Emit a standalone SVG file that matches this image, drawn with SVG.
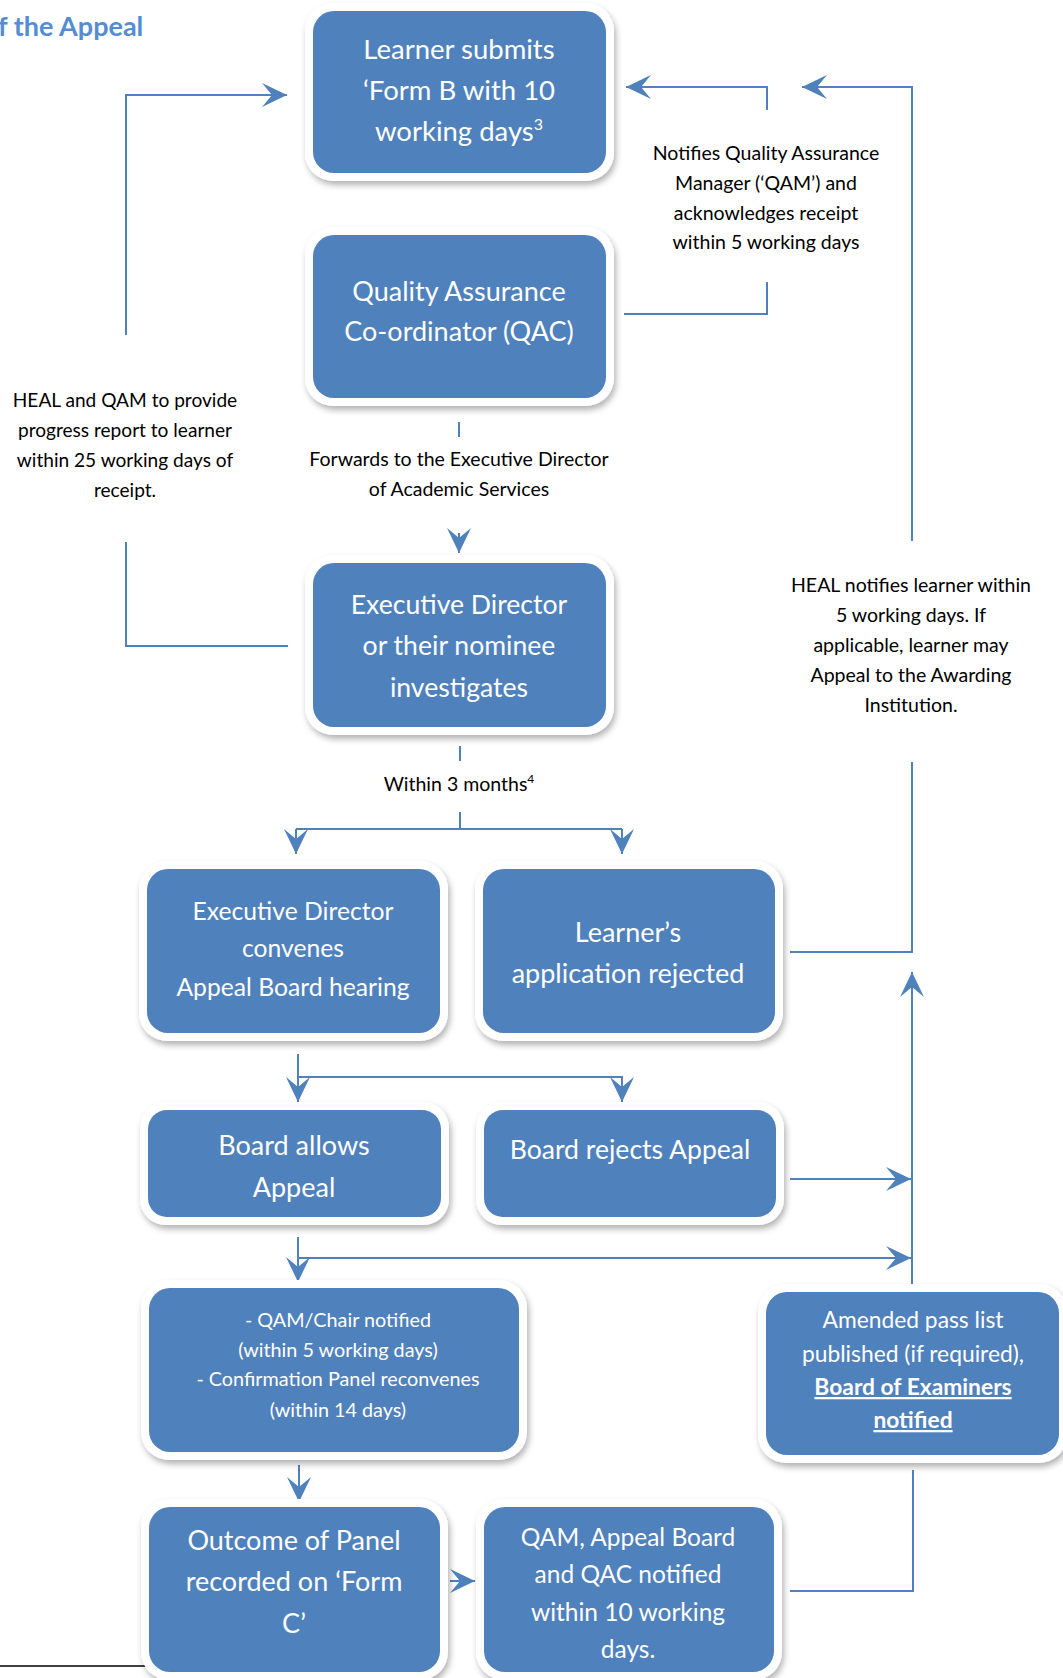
<svg xmlns="http://www.w3.org/2000/svg" width="1063" height="1678" viewBox="0 0 1063 1678">
<defs>
<filter id="sh" x="-10%" y="-10%" width="125%" height="130%">
<feDropShadow dx="2" dy="4" stdDeviation="3" flood-color="#000" flood-opacity="0.3"/>
</filter>
<marker id="ah" markerUnits="userSpaceOnUse" markerWidth="26" markerHeight="26" viewBox="0 0 26 26" refX="25" refY="13" orient="auto">
<path d="M0,1 L25,13 L0,25 L10,13 z" fill="#4F81BD"/>
</marker>
<style>
.frame{fill:#fff;filter:url(#sh)}
.box{fill:#4F81BD}
.bt{font-family:Lato,"Open Sans","Liberation Sans",sans-serif;fill:#fff;text-anchor:middle;font-size:27px}
.bs{font-family:Lato,"Open Sans","Liberation Sans",sans-serif;fill:#fff;text-anchor:middle;font-size:19.8px}
.bm{font-family:Lato,"Open Sans","Liberation Sans",sans-serif;fill:#fff;text-anchor:middle;font-size:22.8px}
.lb{font-family:Lato,"Open Sans","Liberation Sans",sans-serif;fill:#000;text-anchor:middle;font-size:19.5px}
.c{fill:none;stroke:#4F81BD;stroke-width:2}
.title{font-family:Lato,"Open Sans","Liberation Sans",sans-serif;font-weight:bold;font-size:27px;fill:#548DD4}
</style>
</defs>
<rect width="1063" height="1678" fill="#fff"/>
<text class="title" x="-2" y="36">f the Appeal</text>

<g id="connectors">
<path class="c" d="M126,335 V95 H287" marker-end="url(#ah)"/>
<path class="c" d="M288,646 H126 V542"/>
<path class="c" d="M624,314 H767 V282"/>
<path class="c" d="M767,110 V87 H626" marker-end="url(#ah)"/>
<path class="c" d="M790,952 H912 V762"/>
<path class="c" d="M912,541 V87 H802" marker-end="url(#ah)"/>
<path class="c" d="M459,422 V437"/>
<path class="c" d="M459,533 V553" marker-end="url(#ah)"/>
<path class="c" d="M460,746 V761"/>
<path class="c" d="M460,812 V829"/>
<path class="c" d="M296,829 H622"/>
<path class="c" d="M296,829 V854" marker-end="url(#ah)"/>
<path class="c" d="M622,829 V854" marker-end="url(#ah)"/>
<path class="c" d="M298,1054 V1102" marker-end="url(#ah)"/>
<path class="c" d="M298,1077 H622 V1102" marker-end="url(#ah)"/>
<path class="c" d="M790,1179 H911" marker-end="url(#ah)"/>
<path class="c" d="M298,1237 V1282" marker-end="url(#ah)"/>
<path class="c" d="M298,1258 H911" marker-end="url(#ah)"/>
<path class="c" d="M912,1287 V972" marker-end="url(#ah)"/>
<path class="c" d="M299,1465 V1502" marker-end="url(#ah)"/>
<path class="c" d="M450,1581 H475" marker-end="url(#ah)"/>
<path class="c" d="M790,1591 H913 V1470"/>
</g>

<line x1="0" y1="1666" x2="147" y2="1666" stroke="#000" stroke-width="1.5"/>

<g id="n1">
<rect class="frame" x="305" y="3" width="309" height="178" rx="28"/>
<rect class="box" x="313" y="11" width="293" height="162" rx="21"/>
<text class="bt" x="459" y="59" style="font-size:27.5px">Learner submits</text>
<text class="bt" x="459" y="100" style="font-size:27.5px">‘Form B with 10</text>
<text class="bt" x="459" y="141" style="font-size:27.5px">working days<tspan dy="-11" style="font-size:16px">3</tspan></text>
</g>

<g id="n2">
<rect class="frame" x="305" y="227" width="309" height="179" rx="28"/>
<rect class="box" x="313" y="235" width="293" height="163" rx="21"/>
<text class="bt" x="459" y="301">Quality Assurance</text>
<text class="bt" x="459" y="341">Co-ordinator (QAC)</text>
</g>

<g id="n3">
<rect class="frame" x="305" y="555" width="309" height="180" rx="28"/>
<rect class="box" x="313" y="563" width="293" height="164" rx="21"/>
<text class="bt" x="459" y="614" style="font-size:26.6px">Executive Director</text>
<text class="bt" x="459" y="655" style="font-size:26.6px">or their nominee</text>
<text class="bt" x="459" y="697" style="font-size:26.6px">investigates</text>
</g>

<g id="n4">
<rect class="frame" x="139" y="861" width="309" height="180" rx="28"/>
<rect class="box" x="147" y="869" width="293" height="164" rx="21"/>
<text class="bt" x="293" y="920" style="font-size:24.7px">Executive Director</text>
<text class="bt" x="293" y="957" style="font-size:24.7px">convenes</text>
<text class="bt" x="293" y="996" style="font-size:24.7px">Appeal Board hearing</text>
</g>

<g id="n5">
<rect class="frame" x="475" y="861" width="308" height="180" rx="28"/>
<rect class="box" x="483" y="869" width="292" height="164" rx="21"/>
<text class="bt" x="628" y="942">Learner’s</text>
<text class="bt" x="628" y="983">application rejected</text>
</g>

<g id="n6">
<rect class="frame" x="140" y="1102" width="309" height="123" rx="26"/>
<rect class="box" x="148" y="1110" width="293" height="107" rx="19"/>
<text class="bt" x="294" y="1155">Board allows</text>
<text class="bt" x="294" y="1197">Appeal</text>
</g>

<g id="n7">
<rect class="frame" x="476" y="1102" width="308" height="123" rx="26"/>
<rect class="box" x="484" y="1110" width="292" height="107" rx="19"/>
<text class="bt" x="630" y="1159" style="font-size:26.6px">Board rejects Appeal</text>
</g>

<g id="n8">
<rect class="frame" x="141" y="1280" width="386" height="180" rx="28"/>
<rect class="box" x="149" y="1288" width="370" height="164" rx="21"/>
<text class="bs" x="338" y="1327">- QAM/Chair notified</text>
<text class="bs" x="338" y="1357">(within 5 working days)</text>
<text class="bs" x="338" y="1386">- Confirmation Panel reconvenes</text>
<text class="bs" x="338" y="1417">(within 14 days)</text>
</g>

<g id="n9">
<rect class="frame" x="758" y="1284" width="309" height="179" rx="28"/>
<rect class="box" x="766" y="1292" width="293" height="163" rx="21"/>
<text class="bm" x="913" y="1328">Amended pass list</text>
<text class="bm" x="913" y="1362">published (if required),</text>
<text class="bm" x="913" y="1395" font-weight="bold" text-decoration="underline">Board of Examiners</text>
<text class="bm" x="913" y="1428" font-weight="bold" text-decoration="underline">notified</text>
</g>

<g id="n10">
<rect class="frame" x="141" y="1499" width="307" height="181" rx="28"/>
<rect class="box" x="149" y="1507" width="291" height="165" rx="21"/>
<text class="bt" x="294" y="1550">Outcome of Panel</text>
<text class="bt" x="294" y="1591">recorded on ‘Form</text>
<text class="bt" x="294" y="1633">C’</text>
</g>

<g id="n11">
<rect class="frame" x="476" y="1499" width="306" height="181" rx="28"/>
<rect class="box" x="484" y="1507" width="290" height="165" rx="21"/>
<text class="bt" x="628" y="1546" style="font-size:24.5px">QAM, Appeal Board</text>
<text class="bt" x="628" y="1583" style="font-size:24.5px">and QAC notified</text>
<text class="bt" x="628" y="1621" style="font-size:24.5px">within 10 working</text>
<text class="bt" x="628" y="1658" style="font-size:24.5px">days.</text>
</g>

<g id="labels">
<text class="lb" x="766" y="160">Notifies Quality Assurance</text>
<text class="lb" x="766" y="190">Manager (‘QAM’) and</text>
<text class="lb" x="766" y="220">acknowledges receipt</text>
<text class="lb" x="766" y="249">within 5 working days</text>
<text class="lb" x="125" y="407" style="font-size:19.1px">HEAL and QAM to provide</text>
<text class="lb" x="125" y="437" style="font-size:19.1px">progress report to learner</text>
<text class="lb" x="125" y="467" style="font-size:19.1px">within 25 working days of</text>
<text class="lb" x="125" y="497" style="font-size:19.1px">receipt.</text>
<text class="lb" x="459" y="466">Forwards to the Executive Director</text>
<text class="lb" x="459" y="496">of Academic Services</text>
<text class="lb" x="459" y="791">Within 3 months<tspan dy="-8" style="font-size:12px">4</tspan></text>
<text class="lb" x="911" y="592">HEAL notifies learner within</text>
<text class="lb" x="911" y="622">5 working days. If</text>
<text class="lb" x="911" y="652">applicable, learner may</text>
<text class="lb" x="911" y="682">Appeal to the Awarding</text>
<text class="lb" x="911" y="712">Institution.</text>
</g>
</svg>
